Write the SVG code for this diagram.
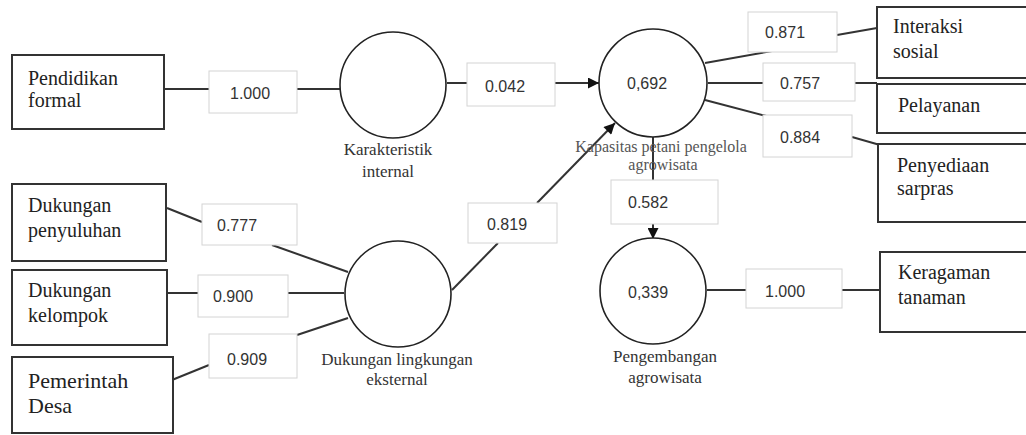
<svg xmlns="http://www.w3.org/2000/svg" width="1026" height="435" viewBox="0 0 1026 435">
<defs>
<style>
.box{fill:#fff;stroke:#333;stroke-width:2}
.lab{fill:#fff;stroke:#d4d4d4;stroke-width:1}
.circ{fill:#fff;stroke:#222;stroke-width:1.6}
.ln{fill:none;stroke:#333;stroke-width:2}
.t{font-family:"Liberation Serif","Times New Roman",serif;font-size:20px;fill:#222}
.big{font-size:22px}
.cl{font-family:"Liberation Serif","Times New Roman",serif;font-size:17px;fill:#333;text-anchor:middle}
.kl{font-size:16px;fill:#555}
.n{font-family:"Liberation Sans",Arial,sans-serif;font-size:16px;fill:#333}
</style>
<marker id="ah" viewBox="0 0 10 10" refX="10" refY="5" markerWidth="13" markerHeight="11" markerUnits="userSpaceOnUse" orient="auto">
<path d="M0,0 L10,5 L0,10 Z" fill="#111"/>
</marker>
</defs>
<rect width="1026" height="435" fill="#fff"/>

<g id="connectors">
<line class="ln" x1="164" y1="89" x2="209" y2="89"/>
<line class="ln" x1="297" y1="89" x2="340" y2="89"/>
<line class="ln" x1="447" y1="83" x2="467" y2="83"/>
<line class="ln" x1="555" y1="83" x2="599" y2="83" marker-end="url(#ah)"/>
<line class="ln" x1="452" y1="290" x2="498" y2="243"/>
<line class="ln" x1="537" y1="203" x2="615" y2="123" marker-end="url(#ah)"/>
<line class="ln" x1="653" y1="137" x2="653" y2="180"/>
<line class="ln" x1="653" y1="224" x2="653" y2="239" marker-end="url(#ah)"/>
<line class="ln" x1="705" y1="63" x2="772" y2="51"/>
<line class="ln" x1="837" y1="35" x2="877" y2="28"/>
<line class="ln" x1="708" y1="83" x2="763" y2="83"/>
<line class="ln" x1="855" y1="83" x2="877" y2="83"/>
<line class="ln" x1="705" y1="100" x2="770" y2="117"/>
<line class="ln" x1="852" y1="137" x2="880" y2="145"/>
<line class="ln" x1="707" y1="290" x2="746" y2="290"/>
<line class="ln" x1="842" y1="290" x2="880" y2="290"/>
<line class="ln" x1="167" y1="208" x2="202" y2="222"/>
<line class="ln" x1="272" y1="245" x2="348" y2="272"/>
<line class="ln" x1="167" y1="293" x2="198" y2="293"/>
<line class="ln" x1="288" y1="293" x2="344" y2="293"/>
<line class="ln" x1="167" y1="382" x2="209" y2="365"/>
<line class="ln" x1="297" y1="335" x2="348" y2="318"/>
</g>

<g id="pendidikan-formal">
<rect class="box" x="12" y="55" width="152" height="74"/>
<text class="t" x="28" y="85">Pendidikan</text>
<text class="t" x="28" y="107">formal</text>
</g>
<g id="dukungan-penyuluhan">
<rect class="box" x="12" y="184" width="154" height="77"/>
<text class="t" x="28" y="212">Dukungan</text>
<text class="t" x="28" y="237">penyuluhan</text>
</g>
<g id="dukungan-kelompok">
<rect class="box" x="12" y="270" width="155" height="75"/>
<text class="t" x="28" y="297">Dukungan</text>
<text class="t" x="28" y="322">kelompok</text>
</g>
<g id="pemerintah-desa">
<rect class="box" x="12" y="357" width="161" height="76"/>
<text class="t big" x="28" y="388">Pemerintah</text>
<text class="t big" x="28" y="413">Desa</text>
</g>

<g id="karakteristik-internal">
<circle class="circ" cx="393" cy="85" r="53"/>
<text class="cl" x="388" y="155">Karakteristik</text>
<text class="cl" x="388" y="177">internal</text>
</g>
<g id="dukungan-lingkungan-eksternal">
<circle class="circ" cx="398" cy="294" r="53"/>
<text class="cl" x="397" y="365">Dukungan lingkungan</text>
<text class="cl" x="397" y="385">eksternal</text>
</g>
<g id="kapasitas-petani">
<circle class="circ" cx="653" cy="83" r="54"/>
<text class="n" x="627" y="89">0,692</text>
<text class="cl kl" x="661" y="152">Kapasitas petani pengelola</text>
<text class="cl kl" x="663" y="170">agrowisata</text>
</g>
<g id="pengembangan-agrowisata">
<circle class="circ" cx="653" cy="291" r="53"/>
<text class="n" x="628" y="298">0,339</text>
<text class="cl" x="665" y="362">Pengembangan</text>
<text class="cl" x="665" y="383">agrowisata</text>
</g>

<g id="interaksi-sosial">
<rect class="box" x="877" y="7" width="160" height="71"/>
<text class="t" x="893" y="33">Interaksi</text>
<text class="t" x="893" y="58">sosial</text>
</g>
<g id="pelayanan">
<rect class="box" x="877" y="84" width="160" height="49"/>
<text class="t" x="898" y="112">Pelayanan</text>
</g>
<g id="penyediaan-sarpras">
<rect class="box" x="878" y="144" width="160" height="78"/>
<text class="t" x="897" y="172">Penyediaan</text>
<text class="t" x="897" y="195">sarpras</text>
</g>
<g id="keragaman-tanaman">
<rect class="box" x="880" y="252" width="160" height="80"/>
<text class="t" x="898" y="279">Keragaman</text>
<text class="t" x="898" y="304">tanaman</text>
</g>

<g id="labels">
<rect class="lab" x="209" y="71" width="88" height="42"/>
<text class="n" x="230" y="99">1.000</text>
<rect class="lab" x="467" y="63" width="88" height="43"/>
<text class="n" x="485" y="92">0.042</text>
<rect class="lab" x="468" y="203" width="89" height="40"/>
<text class="n" x="487" y="230">0.819</text>
<rect class="lab" x="202" y="204" width="95" height="41"/>
<text class="n" x="217" y="231">0.777</text>
<rect class="lab" x="198" y="275" width="90" height="42"/>
<text class="n" x="213" y="302">0.900</text>
<rect class="lab" x="209" y="334" width="88" height="44"/>
<text class="n" x="227" y="365">0.909</text>
<rect class="lab" x="748" y="12" width="89" height="40"/>
<text class="n" x="765" y="38">0.871</text>
<rect class="lab" x="763" y="63" width="92" height="38"/>
<text class="n" x="780" y="89">0.757</text>
<rect class="lab" x="763" y="115" width="89" height="42"/>
<text class="n" x="780" y="143">0.884</text>
<rect class="lab" x="611" y="180" width="107" height="44"/>
<text class="n" x="628" y="208">0.582</text>
<rect class="lab" x="746" y="269" width="96" height="39"/>
<text class="n" x="765" y="297">1.000</text>
</g>
</svg>
